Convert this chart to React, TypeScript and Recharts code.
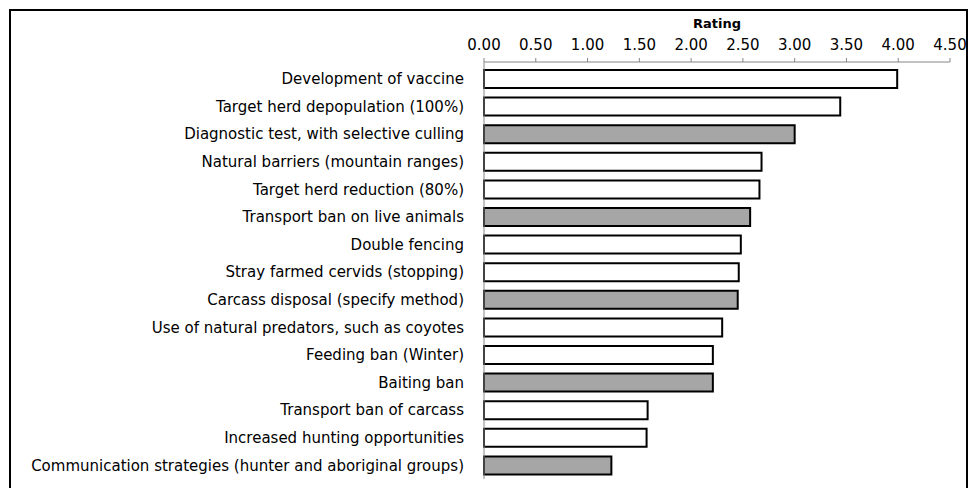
import { BarChart, Bar, XAxis, YAxis, Cell } from "recharts"

const measures = [
  "Development of vaccine",
  "Target herd depopulation  (100%)",
  "Diagnostic test, with  selective culling",
  "Natural barriers (mountain ranges)",
  "Target herd reduction  (80%)",
  "Transport ban on live animals",
  "Double fencing",
  "Stray farmed cervids (stopping)",
  "Carcass disposal  (specify method)",
  "Use of natural predators, such as coyotes",
  "Feeding ban (Winter)",
  "Baiting ban",
  "Transport ban of carcass",
  "Increased hunting opportunities",
  "Communication strategies (hunter and aboriginal groups)",
]

const ratings = [3.99, 3.44, 3.0, 2.68, 2.66, 2.57, 2.48, 2.46, 2.45, 2.3, 2.21, 2.21, 1.58, 1.57, 1.23]

// grey rows in the original
const highlighted = [false, false, true, false, false, true, false, false, true, false, false, true, false, false, true]

const ticks = [0, 0.5, 1, 1.5, 2, 2.5, 3, 3.5, 4, 4.5]

const data = measures.map((m, i) => ({ measure: m, rating: ratings[i], grey: highlighted[i] }))

const font = "'DejaVu Sans', sans-serif"

export default function App() {
  return (
    <div
      style={{
        position: "absolute",
        left: 0,
        top: 0,
        width: 971,
        height: 488,
        overflow: "hidden",
        fontFamily: font,
      }}
    >
      <div
        style={{
          position: "absolute",
          left: 9,
          top: 9,
          width: 955,
          height: 500,
          border: "2px solid #000",
        }}
      />
      <div style={{ position: "absolute", left: 8, top: 8 }}>
        <BarChart
          width={963}
          height={480}
          data={data}
          layout="vertical"
          margin={{ top: 24, right: 21, bottom: 9, left: 0 }}
          barSize={18}
        >
          <XAxis
            type="number"
            orientation="top"
            domain={[0, 4.5]}
            ticks={ticks}
            tickFormatter={(v: number) => v.toFixed(2)}
            height={30}
            stroke="#868686"
            tickSize={4}
            tickMargin={8}
            tick={{ fill: "#000", fontSize: 15, fontFamily: font }}
            label={{
              value: "Rating",
              position: "top",
              offset: 4,
              style: { fill: "#000", fontSize: 13, fontWeight: "bold", fontFamily: font },
            }}
          />
          <YAxis
            type="category"
            dataKey="measure"
            width={476}
            stroke="#868686"
            tickLine={false}
            tickMargin={14}
            interval={0}
            padding={{ top: 3, bottom: 0 }}
            tick={{ fill: "#000", fontSize: 15, fontFamily: font }}
          />
          <Bar dataKey="rating" stroke="#000" strokeWidth={2} isAnimationActive={false}>
            {data.map((d, i) => (
              <Cell key={i} fill={d.grey ? "#a6a6a6" : "#fff"} />
            ))}
          </Bar>
        </BarChart>
      </div>
    </div>
  )
}
